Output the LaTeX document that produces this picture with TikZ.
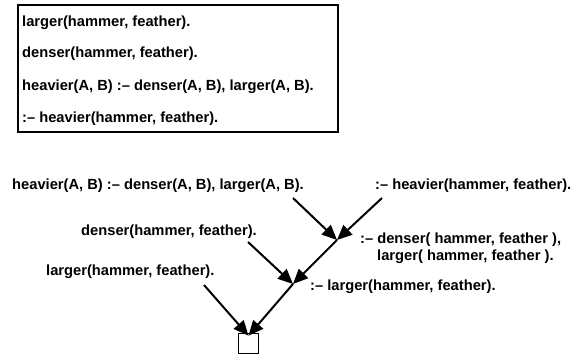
\documentclass[tikz,border=0pt]{standalone}
\usepackage{fontspec}
\setmainfont{Liberation Sans}
\usetikzlibrary{arrows.meta}
\begin{document}
\begin{tikzpicture}[x=1pt,y=-1pt,
  lbl/.style={anchor=west,inner sep=0pt,font=\fontsize{14.7}{17}\selectfont\bfseries},
  arr/.style={line width=2pt,-{Triangle[length=15pt,width=13pt]}},
  frame/.style={draw,line width=1.8pt}]
\useasboundingbox (0,0) rectangle (574,355);
% program box
\node[frame,anchor=north west,minimum width=320pt,minimum height=126.5pt,inner sep=0pt] (prog) at (17,4.5) {};
\node[lbl] (p1) at (22,23) {larger(hammer, feather).};
\node[lbl] (p2) at (22,54) {denser(hammer, feather).};
\node[lbl] (p3) at (22,87) {heavier(A, B) :– denser(A, B), larger(A, B).};
\node[lbl] (p4) at (22,119) {:– heavier(hammer, feather).};
% derivation tree
\node[lbl] (t1) at (12,186) {heavier(A, B) :– denser(A, B), larger(A, B).};
\node[lbl] (t2) at (375,186) {:– heavier(hammer, feather).};
\node[lbl] (t3a) at (360,240) {:– denser( hammer, feather ),};
\node[lbl] (t3b) at (377,257) {larger( hammer, feather ).};
\node[lbl] (t4) at (81,232) {denser(hammer, feather).};
\node[lbl] (t5) at (46,272) {larger(hammer, feather).};
\node[lbl] (t6) at (310,287) {:– larger(hammer, feather).};
\node[frame,line width=1.6pt,minimum size=20pt,inner sep=0pt] (sq) at (248.5,343.5) {};
\coordinate (j1) at (337,240);
\coordinate (j2) at (293,284);
\coordinate (s1) at (293,198);
\coordinate (s2) at (382,198);
\coordinate (s3) at (248,242);
\coordinate (s5) at (204,285);
\coordinate (sqt) at ([yshift=-3pt]sq.north);
\draw[arr] (s1) -- (j1);
\draw[arr] (s2) -- (j1);
\draw[arr] (j1) -- (j2);
\draw[arr] (s3) -- (j2);
\draw[arr] (j2) -- (sqt);
\draw[arr] (s5) -- (sqt);
\end{tikzpicture}
\end{document}
